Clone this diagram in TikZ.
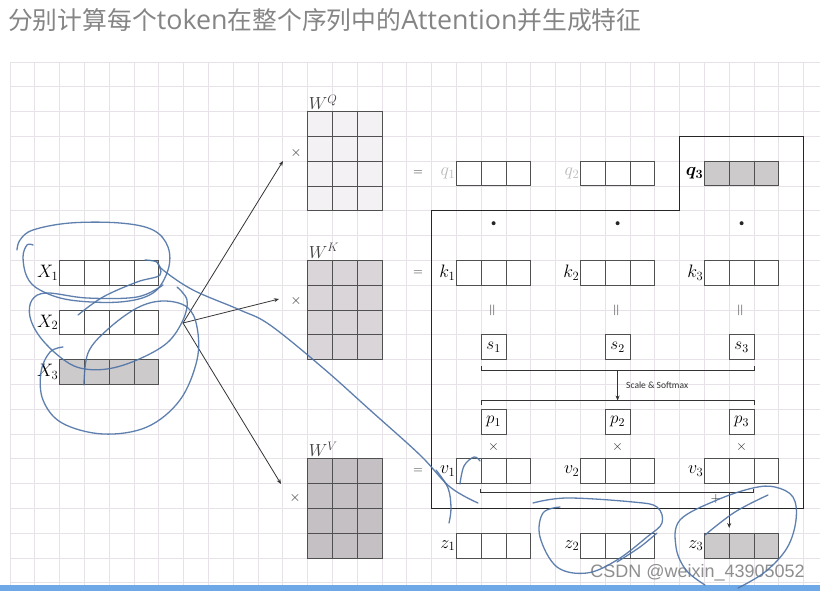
\RequirePackage{fix-cm}
\documentclass[tikz,border=0pt]{standalone}
\usepackage{bm}
\usepackage{fontspec}
\newfontfamily\cjk{Noto Sans CJK SC}
\newfontfamily\latt{Open Sans}
\newfontfamily\carlito{Carlito}
\newfontfamily\libsans{Liberation Sans}
\newcommand\ltw[1]{{\fontsize{26.8}{27}\selectfont\latt #1}}
\usetikzlibrary{arrows.meta,calc}
\definecolor{gridc}{HTML}{E6E2E8}
\definecolor{boxc}{HTML}{505050}
\definecolor{wq}{HTML}{F4F1F4}
\definecolor{wk}{HTML}{D9D5D9}
\definecolor{wv}{HTML}{C4C0C3}
\definecolor{stip}{HTML}{CDCACC}
\definecolor{titlec}{HTML}{858585}
\definecolor{inkc}{HTML}{4E73A6}
\definecolor{lightlab}{HTML}{BBBBBB}
\definecolor{barc}{HTML}{6FA8E6}
\definecolor{wmc}{HTML}{8E8E8E}
\tikzset{
  gridline/.style={draw=gridc, line width=0.8pt},
  divline/.style={draw=boxc, line width=0.9pt},
  vecthree/.style={draw=boxc, line width=1pt, minimum width=74.4pt, minimum height=24.8pt, inner sep=0pt, outer sep=0pt,
    path picture={\foreach \i in {1,2}{\draw[divline] ([xshift=\i*24.8pt]path picture bounding box.south west) -- ([xshift=\i*24.8pt]path picture bounding box.north west);}}},
  vecfour/.style={draw=boxc, line width=1pt, minimum width=99.2pt, minimum height=24.8pt, inner sep=0pt, outer sep=0pt,
    path picture={\foreach \i in {1,2,3}{\draw[divline] ([xshift=\i*24.8pt]path picture bounding box.south west) -- ([xshift=\i*24.8pt]path picture bounding box.north west);}}},
  wmat/.style={draw=boxc, line width=1pt, minimum width=74.4pt, minimum height=99.2pt, inner sep=0pt, outer sep=0pt,
    path picture={\foreach \i in {1,2}{\draw[divline] ([xshift=\i*24.8pt]path picture bounding box.south west) -- ([xshift=\i*24.8pt]path picture bounding box.north west);}
                  \foreach \j in {1,2,3}{\draw[divline] ([yshift=\j*24.8pt]path picture bounding box.south west) -- ([yshift=\j*24.8pt]path picture bounding box.south east);}}},
  sqbox/.style={draw=boxc, line width=1pt, minimum size=24.8pt, inner sep=0pt, outer sep=0pt, font=\fontsize{17}{18}\selectfont},
  lab/.style={inner sep=1pt, font=\fontsize{18}{20}\selectfont},
  wlab/.style={inner sep=0pt, font=\fontsize{17.5}{18}\selectfont, text=black!75},
  sym/.style={inner sep=0pt, font=\fontsize{14}{14}\selectfont, text=black!80},
  eqs/.style={inner sep=0pt, font=\fontsize{13}{13}\selectfont, text=black!80},
  veq/.style={inner sep=0pt, font=\fontsize{17}{17}\selectfont, text=black!75, rotate=90},
  dotn/.style={circle, fill=black!85, inner sep=0pt, minimum size=4pt},
  arr/.style={draw=black!80, line width=0.8pt, -{Stealth[length=5pt,width=4pt]}},
  brk/.style={draw=black!80, line width=0.9pt},
  outline/.style={draw=black!85, line width=1.4pt},
  ink/.style={draw=inkc, line width=1.3pt, line cap=round, line join=round, opacity=0.9},
}
\begin{document}
\begin{tikzpicture}[x=1pt,y=-1pt]
\useasboundingbox[fill=white] (0,0) rectangle (820,591);
% grid
\foreach \k in {0,...,32} \draw[gridline] ({10+24.8*\k},62) -- ({10+24.8*\k},585);
\foreach \k in {0,...,21} \draw[gridline] (10,{62+24.8*\k}) -- (820,{62+24.8*\k});
\fill[barc] (0,585) rectangle (820,591);
% title
\node[anchor=west, text=titlec, font=\cjk\fontsize{24.8}{27}\selectfont, inner sep=0pt] (title) at (8,20) {分别计算每个\ltw{token}在整个序列中的\ltw{Attention}并生成特征};
% X vectors
\node[vecfour] (X1) at (109.2,272.8) {};
\node[vecfour] (X2) at (109.2,322.4) {};
\node[vecfour, fill=stip] (X3) at (109.2,372) {};
\node[lab, anchor=east] (X1l) at (X1.west) {$X_1$};
\node[lab, anchor=east] (X2l) at (X2.west) {$X_2$};
\node[lab, anchor=east] (X3l) at (X3.west) {$X_3$};
% W matrices
\node[wmat, fill=wq] (WQ) at (344.8,161.2) {};
\node[wmat, fill=wk] (WK) at (344.8,310) {};
\node[wmat, fill=wv] (WV) at (344.8,508.4) {};
\node[wlab, anchor=south west] (WQl) at ($(WQ.north west)+(1,-2)$) {$W^Q$};
\node[wlab, anchor=south west] (WKl) at ($(WK.north west)+(1,-2)$) {$W^K$};
\node[wlab, anchor=south west] (WVl) at ($(WV.north west)+(1,-2)$) {$W^V$};
\node[sym] (xQ) at (296,153) {$\times$};
\node[sym] (xK) at (296,301) {$\times$};
\node[sym] (xV) at (295,498) {$\times$};
% fork arrows
\coordinate (fork) at (183,323);
\coordinate (aQ) at (283,161);
\coordinate (aK) at (279,299);
\coordinate (aV) at (281,484);
\draw[arr] (fork) -- (aQ);
\draw[arr] (fork) -- (aK);
\draw[arr] (fork) -- (aV);
% outline
\draw[outline] (431.6,210.8) -- (679.6,210.8) -- (679.6,136.4) -- (803.6,136.4) -- (803.6,508.4) -- (431.6,508.4) -- cycle;
% q row
\node[eqs] (eq1) at (418,173.6) {$=$};
\node[vecthree] (q1) at (493.6,173.6) {};
\node[vecthree] (q2) at (617.6,173.6) {};
\node[vecthree, fill=stip] (q3) at (741.6,173.6) {};
\node[lab, anchor=east, text=lightlab] (q1l) at (q1.west) {$q_1$};
\node[lab, anchor=east, text=lightlab] (q2l) at (q2.west) {$q_2$};
\node[lab, anchor=east] (q3l) at (q3.west) {$\bm{q_3}$};
% dots
\node[dotn] (d1) at (493.6,223.2) {};
\node[dotn] (d2) at (617.6,223.2) {};
\node[dotn] (d3) at (741.6,223.2) {};
% k row
\node[eqs] (eq2) at (418,272.8) {$=$};
\node[vecthree] (k1) at (493.6,272.8) {};
\node[vecthree] (k2) at (617.6,272.8) {};
\node[vecthree] (k3) at (741.6,272.8) {};
\node[lab, anchor=east] (k1l) at (k1.west) {$k_1$};
\node[lab, anchor=east] (k2l) at (k2.west) {$k_2$};
\node[lab, anchor=east] (k3l) at (k3.west) {$k_3$};
% vertical equals
\node[veq] (e1) at (493.6,310) {$=$};
\node[veq] (e2) at (617.6,310) {$=$};
\node[veq] (e3) at (741.6,310) {$=$};
% s boxes
\node[sqbox] (s1) at (493.6,347.2) {$s_1$};
\node[sqbox] (s2) at (617.6,347.2) {$s_2$};
\node[sqbox] (s3) at (741.6,347.2) {$s_3$};
% brackets
\coordinate (sbL) at (481.2,370);
\coordinate (sbR) at (754,370);
\coordinate (sbM) at (617.6,370);
\coordinate (pbL) at (481.2,400.5);
\coordinate (pbR) at (754,400.5);
\coordinate (pbM) at (617.6,400.5);
\draw[brk] ($(sbL)+(0,-4)$) -- (sbL) -- (sbR) -- ($(sbR)+(0,-4)$);
\draw[brk] ($(pbL)+(0,4)$) -- (pbL) -- (pbR) -- ($(pbR)+(0,4)$);
\draw[arr] (sbM) -- (pbM);
\node[anchor=west, inner sep=0pt, font=\carlito\fontsize{9.5}{10}\selectfont, text=black!80] (ss) at (626,385) {Scale \& Softmax};
% p boxes
\node[sqbox] (p1) at (493.6,421.6) {$p_1$};
\node[sqbox] (p2) at (617.6,421.6) {$p_2$};
\node[sqbox] (p3) at (741.6,421.6) {$p_3$};
\node[sym] (m1) at (493.6,447) {$\times$};
\node[sym] (m2) at (617.6,447) {$\times$};
\node[sym] (m3) at (741.6,447) {$\times$};
% v row
\node[eqs] (eq3) at (418,471.2) {$=$};
\node[vecthree] (v1) at (493.6,471.2) {};
\node[vecthree] (v2) at (617.6,471.2) {};
\node[vecthree] (v3) at (741.6,471.2) {};
\node[lab, anchor=east] (v1l) at (v1.west) {$v_1$};
\node[lab, anchor=east] (v2l) at (v2.west) {$v_2$};
\node[lab, anchor=east] (v3l) at (v3.west) {$v_3$};
\coordinate (vbL) at (480.5,492.7);
\coordinate (vbR) at (753.5,492.7);
\coordinate (vbA) at (729.2,492.7);
\coordinate (zA) at (729.2,528);
\draw[brk] ($(vbL)+(0,-4)$) -- (vbL) -- (vbR) -- ($(vbR)+(0,-4)$);
\draw[arr] (vbA) -- (zA);
\node[sym] (plus) at (716,499) {$+$};
% z row
\node[vecthree] (z1) at (493.6,545.6) {};
\node[vecthree] (z2) at (617.6,545.6) {};
\node[vecthree, fill=stip] (z3) at (741.6,545.6) {};
\node[lab, anchor=east] (z1l) at (z1.west) {$z_1$};
\node[lab, anchor=east] (z2l) at (z2.west) {$z_2$};
\node[lab, anchor=east] (z3l) at (z3.west) {$z_3$};
% watermark
\node[anchor=east, inner sep=0pt, font=\libsans\fontsize{18}{20}\selectfont, text=wmc] (wm) at (805,573) {CSDN @weixin\_43905052};
% handwriting
\draw[ink] plot[smooth, tension=0.6] coordinates {(33,245) (27,245) (23,257) (27,277) (40,290) (70,300) (120,302) (153,293) (168,270) (168,247) (153,230) (120,223) (70,223) (33,230) (20,240) (17,250)};
\draw[ink] plot[smooth, tension=0.6] coordinates {(157,262) (160,275) (137,282) (103,297) (78,315)};
\draw[ink] plot[smooth, tension=0.6] coordinates {(163,285) (137,297) (87,298) (47,293) (32,300) (30,317) (40,337) (60,357) (80,368) (107,369) (137,360) (167,343) (183,320) (187,300) (177,287)};
\draw[ink] plot[smooth, tension=0.6] coordinates {(63,347) (50,352) (41,372) (43,400) (62,423) (103,434) (147,427) (180,400) (197,360) (197,327) (187,307) (163,301) (137,308) (107,330) (88,353) (84,385)};
\draw[ink] plot[smooth, tension=0.6] coordinates {(145,260) (157,262) (163,270) (193,290) (240,310) (270,325) (323,368) (370,410) (420,455) (450,487) (478,503)};
\draw[ink] plot[smooth, tension=0.6] coordinates {(436,470) (448,488) (451,508) (449,523)};
\draw[ink] plot[smooth, tension=0.6] coordinates {(460,484) (464,466) (474,457) (480,461)};
\draw[ink] plot[smooth, tension=0.6] coordinates {(533,503) (567,498) (633,502) (657,507) (662,523) (647,537) (617,560) (587,573) (557,567) (540,537) (543,513) (560,507)};
\draw[ink] plot[smooth, tension=0.6] coordinates {(617,562) (640,547) (657,533)};
\draw[ink] plot[smooth, tension=0.6] coordinates {(705,585) (686,570) (676,547) (680,520) (717,500) (753,488) (775,487) (793,497) (796,520) (787,548) (765,572) (738,588)};
\draw[ink] plot[smooth, tension=0.6] coordinates {(705,535) (735,512) (768,495)};
\end{tikzpicture}
\end{document}
